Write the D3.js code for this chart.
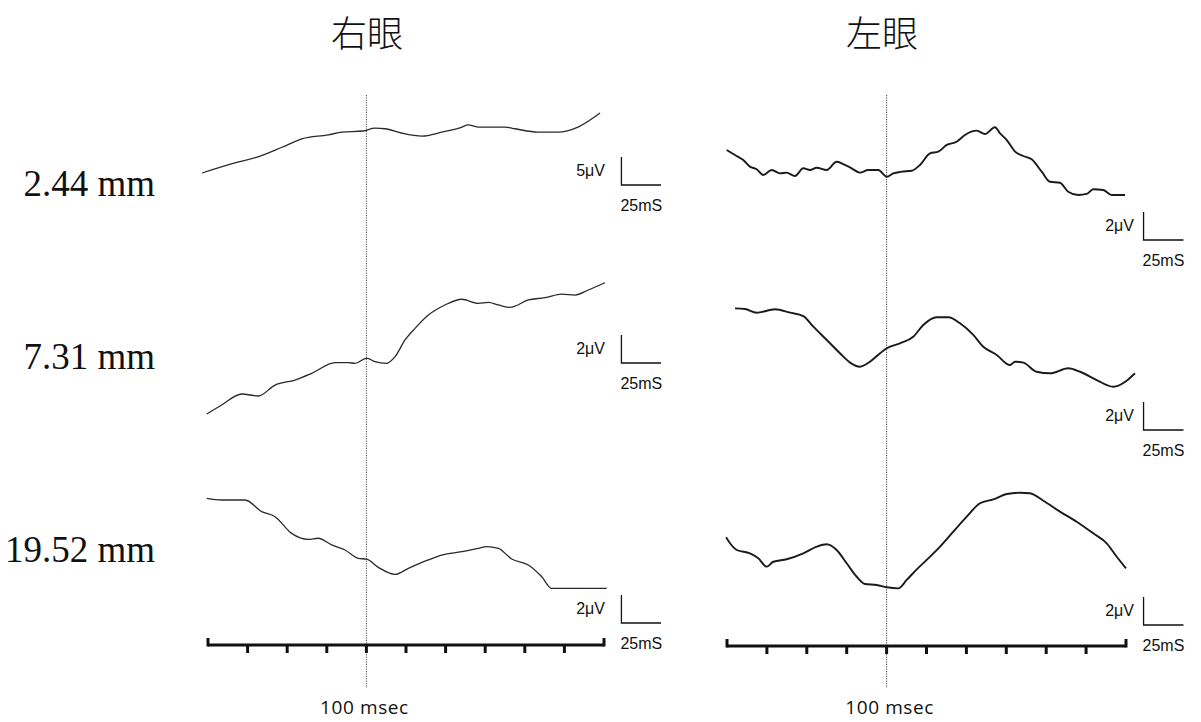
<!DOCTYPE html>
<html>
<head>
<meta charset="utf-8">
<script src="https://cdn.jsdelivr.net/npm/d3@7"></script>
<style>
  html, body { margin: 0; padding: 0; background: #fff; }
  svg { display: block; }
</style>
</head>
<body>
<svg id="chart" width="1201" height="722"></svg>
<script>
// ---- labels ----
const eyes = ["右眼", "左眼"];
const distances = ["2.44 mm", "7.31 mm", "19.52 mm"];
const timeTicks = [0, 25, 50, 75, 100, 125, 150, 175, 200, 225, 250];
const markerMs = 100;
const markerLabel = "100 msec";
const scaleBarMs = 25;
const scaleBarTimeLabel = "25mS";
const rightEyeScaleUV = [5, 2, 2];
const leftEyeScaleUV = [2, 2, 2];

// ---- right eye traces (time in ms, amplitude in µV) ----
const re244Time = [-3.8, 17.0, 31.6, 46.7, 59.3, 75.8, 84.6, 97.9, 105.4, 111.7, 122.5, 135.1, 147.7, 160.4, 164.1, 170.5, 187.5, 193.8, 208.3, 221.0, 233.6, 247.5];
const re244Amp  = [0.0, 1.8, 2.9, 4.6, 6.1, 6.8, 7.3, 7.5, 8.0, 7.9, 7.1, 6.6, 7.3, 8.2, 8.6, 8.2, 8.2, 7.9, 7.3, 7.3, 8.2, 10.7];

const re731Time = [-0.8, 8.6, 21.3, 31.8, 42.3, 54.9, 65.5, 80.2, 88.6, 92.8, 100.2, 105.4, 112.8, 118.1, 124.4, 130.7, 139.1, 149.6, 160.2, 170.6, 177.0, 183.3, 190.7, 202.2, 212.8, 223.3, 231.7, 240.1, 250.6];
const re731Amp  = [-3.86, -3.21, -2.43, -2.57, -1.79, -1.43, -0.95, -0.19, -0.19, -0.24, 0.14, -0.12, -0.24, 0.24, 1.43, 2.26, 3.21, 3.93, 4.34, 4.05, 4.12, 3.93, 3.76, 4.29, 4.45, 4.71, 4.64, 5.0, 5.52];

const re1952Time = [-0.8, 8.6, 23.4, 33.9, 42.3, 52.8, 63.3, 69.6, 78.1, 86.5, 94.9, 100.2, 107.5, 118.1, 126.5, 139.1, 147.5, 160.2, 170.6, 175.9, 183.3, 191.7, 202.2, 210.7, 217.0, 233.8, 251.7];
const re1952Amp  = [3.69, 3.57, 3.57, 2.74, 2.38, 1.19, 0.76, 0.84, 0.36, 0.0, -0.59, -0.66, -1.24, -1.74, -1.31, -0.71, -0.36, -0.12, 0.12, 0.24, 0.12, -0.64, -1.07, -1.91, -2.74, -2.74, -2.74];

// ---- left eye traces (time in ms, amplitude in µV) ----
const le244Time = [-0.2, 5.0, 10.2, 14.4, 18.6, 22.7, 28.0, 33.2, 37.4, 42.6, 47.8, 52.0, 56.2, 62.5, 68.7, 73.9, 78.1, 83.3, 88.5, 94.8, 100.1, 104.2, 109.5, 115.7, 120.9, 127.2, 132.4, 137.7, 143.9, 149.1, 156.5, 161.7, 167.9, 171.1, 175.3, 180.5, 185.7, 190.9, 197.2, 202.4, 208.6, 213.8, 220.1, 225.4, 229.5, 235.8, 241.0, 249.4];
const le244Amp  = [1.43, 1.07, 0.71, 0.24, 0.05, -0.36, 0.0, -0.24, -0.19, -0.43, 0.12, 0.0, 0.16, 0.0, 0.59, 0.36, 0.12, -0.19, 0.0, 0.0, -0.48, -0.24, -0.12, -0.05, 0.36, 1.19, 1.31, 1.79, 2.02, 2.5, 2.81, 2.57, 3.05, 2.62, 2.14, 1.31, 1.0, 0.76, -0.12, -0.84, -0.91, -1.55, -1.79, -1.71, -1.38, -1.43, -1.79, -1.79];

const le731Time = [5.0, 11.3, 18.6, 30.1, 39.5, 47.8, 54.1, 62.5, 70.8, 77.1, 83.3, 89.6, 95.9, 100.1, 108.4, 116.7, 123.0, 131.4, 138.7, 146.0, 154.3, 160.6, 169.0, 177.3, 180.5, 185.7, 194.0, 202.4, 213.8, 221.2, 231.6, 242.0, 250.4, 255.6];
const le731Amp  = [3.69, 3.64, 3.38, 3.62, 3.38, 3.14, 2.38, 1.43, 0.48, -0.19, -0.48, -0.12, 0.48, 0.84, 1.19, 1.66, 2.5, 3.05, 3.05, 2.62, 1.79, 0.95, 0.36, -0.36, -0.12, -0.19, -0.84, -0.95, -0.59, -0.84, -1.43, -1.91, -1.48, -0.95];

const le1952Time = [-0.6, 1.9, 6.1, 14.4, 19.6, 24.9, 29.0, 37.4, 47.8, 56.2, 62.5, 68.7, 75.0, 81.3, 86.5, 93.8, 100.1, 107.3, 112.6, 118.9, 125.1, 133.5, 141.8, 150.2, 158.5, 166.9, 175.3, 183.6, 189.8, 198.2, 208.6, 219.1, 229.5, 237.9, 244.2, 250.0];
const le1952Amp  = [0.91, 0.48, 0.0, -0.24, -0.59, -1.19, -0.84, -0.66, -0.24, 0.24, 0.41, 0.0, -0.95, -1.91, -2.43, -2.5, -2.66, -2.74, -2.14, -1.38, -0.71, 0.24, 1.31, 2.38, 3.34, 3.62, 4.0, 4.09, 4.05, 3.52, 2.74, 2.02, 1.19, 0.48, -0.48, -1.31];

// ---- layout ----
const W = 1201, H = 722;
const columns = [
  { range: [208, 604], axisY: 645, titleX: 367, zeroY: [173, 360, 550], barBottom: [185, 363, 623], barLabelRight: 605, traceWidth: 1.3, traceColor: "#2a2a2a" },
  { range: [727, 1126], axisY: 646, titleX: 882, zeroY: [170, 360, 550], barBottom: [240, 430, 625], barLabelRight: 1134, traceWidth: 1.9, traceColor: "#1a1a1a" }
];
const barPx = 28;          // height of the µV calibration bar
const barMs = 261;         // horizontal position of the calibration bars (ms)
const rowLabelY = [183, 356, 549];

const traces = [
  [ { t: re244Time, v: re244Amp }, { t: re731Time, v: re731Amp }, { t: re1952Time, v: re1952Amp } ],
  [ { t: le244Time, v: le244Amp }, { t: le731Time, v: le731Amp }, { t: le1952Time, v: le1952Amp } ]
];
const scaleUV = [rightEyeScaleUV, leftEyeScaleUV];

const svg = d3.select("#chart");
svg.append("rect").attr("width", W).attr("height", H).attr("fill", "#fff");

// row labels (distance)
svg.selectAll("text.row")
  .data(distances)
  .join("text")
  .attr("class", "row")
  .attr("x", 155)
  .attr("y", (d, i) => rowLabelY[i])
  .attr("dy", "0.35em")
  .attr("text-anchor", "end")
  .attr("font-family", "'Liberation Serif', 'DejaVu Serif', serif")
  .attr("font-size", 37)
  .attr("fill", "#111")
  .text(d => d);

columns.forEach((col, ci) => {
  const x = d3.scaleLinear().domain([0, 250]).range(col.range);
  const g = svg.append("g");

  // eye title
  g.append("text")
    .attr("x", col.titleX)
    .attr("y", 34)
    .attr("dy", "0.35em")
    .attr("text-anchor", "middle")
    .attr("font-family", "'Noto Sans CJK JP', 'Noto Sans CJK SC', sans-serif")
    .attr("font-weight", 300)
    .attr("font-size", 36)
    .attr("fill", "#111")
    .text(eyes[ci]);

  // stimulus marker
  g.append("line")
    .attr("x1", x(markerMs)).attr("x2", x(markerMs))
    .attr("y1", 95).attr("y2", 688)
    .attr("stroke", "#444")
    .attr("stroke-width", 1)
    .attr("stroke-dasharray", "1.2,1.2");

  g.append("text")
    .attr("x", x(markerMs) - 2 + ci * 5)
    .attr("y", 707)
    .attr("dy", "0.35em")
    .attr("text-anchor", "middle")
    .attr("font-family", "'Open Sans', 'Liberation Sans', sans-serif")
    .attr("font-size", 19)
    .attr("letter-spacing", 0.6)
    .attr("fill", "#111")
    .text(markerLabel);

  // traces with their calibration bars
  traces[ci].forEach((tr, ri) => {
    const uv = scaleUV[ci][ri];
    const y = d3.scaleLinear().domain([0, uv]).range([col.zeroY[ri], col.zeroY[ri] - barPx]);
    const pts = tr.t.map((t, k) => [t, tr.v[k]]);
    const line = d3.line().x(d => x(d[0])).y(d => y(d[1])).curve(d3.curveMonotoneX);
    g.append("path")
      .datum(pts)
      .attr("d", line)
      .attr("fill", "none")
      .attr("stroke", col.traceColor)
      .attr("stroke-width", col.traceWidth)
      .attr("stroke-linejoin", "round");

    // calibration bar: vertical = uv µV, horizontal = scaleBarMs
    const by = d3.scaleLinear().domain([0, uv]).range([col.barBottom[ri], col.barBottom[ri] - barPx]);
    const bx0 = x(barMs), bx1 = x(barMs + scaleBarMs);
    g.append("path")
      .attr("d", `M${bx0},${by(uv)}V${by(0)}H${bx1}`)
      .attr("fill", "none")
      .attr("stroke", "#111")
      .attr("stroke-width", 1.3);
    g.append("text")
      .attr("x", col.barLabelRight)
      .attr("y", by(uv / 2) - 1)
      .attr("dy", "0.35em")
      .attr("text-anchor", "end")
      .attr("font-family", "'Liberation Sans', Arial, sans-serif")
      .attr("font-size", 16)
      .attr("fill", "#111")
      .text(uv + "μV");
    g.append("text")
      .attr("x", bx0 - 1)
      .attr("y", by(0) + 20)
      .attr("dy", "0.35em")
      .attr("font-family", "'Liberation Sans', Arial, sans-serif")
      .attr("font-size", 16)
      .attr("fill", "#111")
      .text(scaleBarTimeLabel);
  });

  // time axis: end caps point up, inner ticks point down
  const axisG = g.append("g").attr("transform", `translate(0,${col.axisY})`);
  axisG.append("line")
    .attr("x1", x(0)).attr("x2", x(250))
    .attr("stroke", "#111").attr("stroke-width", 3);
  axisG.selectAll("line.tick")
    .data(timeTicks)
    .join("line")
    .attr("class", "tick")
    .attr("x1", d => x(d)).attr("x2", d => x(d))
    .attr("y1", d => (d === 0 || d === 250) ? -7 : 0)
    .attr("y2", d => (d === 0 || d === 250) ? 1.5 : 8)
    .attr("stroke", "#111")
    .attr("stroke-width", 3);
});
</script>
</body>
</html>
